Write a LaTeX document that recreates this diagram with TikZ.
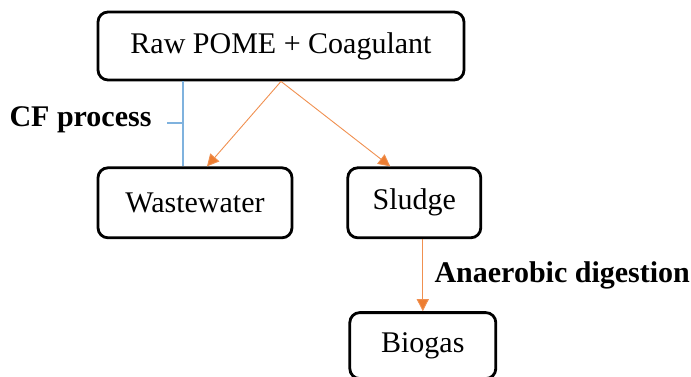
\documentclass[tikz,border=0pt]{standalone}
\usepackage{fontspec}
\setmainfont{Liberation Serif}
\usepackage{xcolor}
\usepackage{tikz}
\usetikzlibrary{
	arrows.meta,
	calc,
	positioning,
	}
\definecolor{flowor}{HTML}{ED7D31}
\definecolor{bracketbl}{HTML}{7FB2DE}
\tikzset{
	stage/.style={draw, line width=2.8pt, rounded corners=10pt, inner sep=0pt, font=\fontsize{30}{36}\selectfont},
	flow/.style={draw=flowor!85!white, line width=0.9pt, -{Triangle[length=12pt, width=12pt, fill=flowor]}},
	bracket/.style={draw=bracketbl, line width=1.3pt},
	lbl/.style={font=\fontsize{30}{36}\selectfont\bfseries},
	}
\begin{document}
\begin{tikzpicture}[x=1pt, y=1pt]
			\useasboundingbox (0,0) rectangle (691,-376);
			\node[stage, minimum width=366pt, minimum height=68pt] (raw) at (281,-46) {Raw POME + Coagulant};
			\node[stage, minimum width=194pt, minimum height=70pt, below right=85pt and 0pt of raw.south west] (wastewater) {Wastewater};
			\node[stage, minimum width=133pt, minimum height=70pt, right=53pt of wastewater] (sludge) {Sludge};
			\node[stage, minimum width=146pt, minimum height=66pt, below right=72pt and 2pt of sludge.south west] (biogas) {Biogas};
			\coordinate (cfx) at (183,-123);
			\coordinate (cftick) at (167,-123);
			\draw[bracket] (cfx |- raw.south) -- (cfx |- wastewater.north);
			\draw[bracket] (cfx) -- (cftick);
			\node[lbl, left=12pt of cftick, yshift=3pt] (cf) {CF process};
			\draw[flow] (raw.south) -- ([xshift=12pt]wastewater.north);
			\draw[flow] (raw.south) -- ([xshift=-24pt]sludge.north);
			\draw[flow] (biogas.north |- sludge.south) -- node[lbl, right=8pt] (ad) {Anaerobic digestion} (biogas.north);
		\end{tikzpicture}
\end{document}
